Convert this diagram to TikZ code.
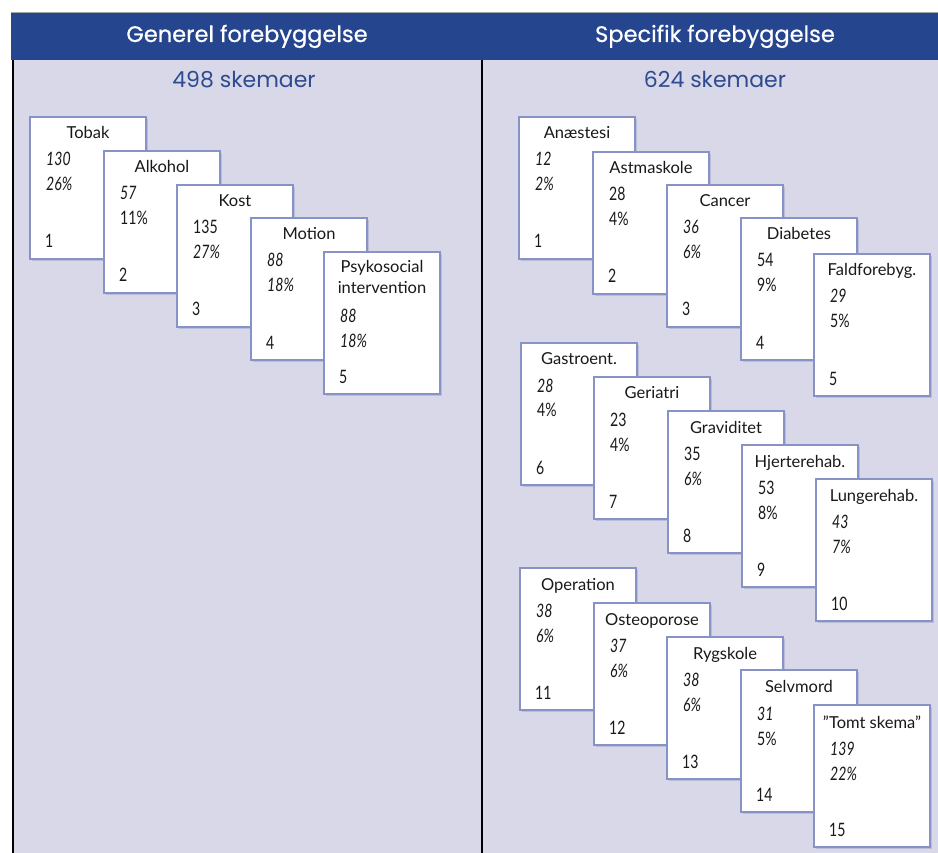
\documentclass[tikz,border=0pt]{standalone}
\usepackage{fontspec}
\setmainfont{Lato}
\newfontfamily\headfont[FakeBold=0.7]{Poppins}
\newfontfamily\subfont{Poppins}
\newfontfamily\numfont[FakeStretch=0.76]{Lato}
\usetikzlibrary{calc,shadows}
\definecolor{hdrblue}{HTML}{25458E}
\definecolor{panelc}{HTML}{D9D8E9}
\definecolor{cardline}{HTML}{8792C6}
\definecolor{shadowc}{HTML}{B9BDDA}
\definecolor{subblue}{HTML}{2D4B90}
\newcommand\card[9]{%
  \node[cardbox] (#1) at (#2,#3) {};
  \node[ctitle] (#1t) at ($(#1.north west)+(58,#8)$) {#4};
  \node[cnum] (#1n) at ($(#1.north west)+(16,#9)$) {#5};
  \node[cnum] (#1p) at ($(#1.north west)+(16,#9+25)$) {#6};
  \node[cnum] (#1i) at ($(#1.north west)+(15,131)$) {#7};
}
\begin{document}
\begin{tikzpicture}[x=1pt,y=-1pt,
  cardbox/.style={draw=cardline, line width=1.4pt, fill=white, anchor=north west,
    minimum width=116pt, minimum height=142pt, inner sep=0pt, outer sep=0pt,
    drop shadow={shadow xshift=1.6pt, shadow yshift=-1.6pt, fill=shadowc, opacity=1}},
  ctitle/.style={font=\fontsize{16.5}{21}\selectfont, inner sep=0pt, anchor=base, text=black!90},
  cnum/.style={font=\numfont\fontsize{18.5}{20}\selectfont, inner sep=0pt, anchor=base west, text=black!90},
  hdr/.style={font=\headfont\fontsize{22.5}{24}\selectfont, text=white, inner sep=0pt, anchor=base},
  sub/.style={font=\subfont\fontsize{22}{24}\selectfont, text=subblue, inner sep=0pt, anchor=base},
  rule/.style={line width=2pt, black}
]
\useasboundingbox (0,0) rectangle (938,853);
% panels
\fill[panelc] (12,60) rectangle (938,853);
\fill[hdrblue] (11,13) rectangle (938,60);
\draw[line width=0.8pt, black!35] (11,12.6) -- (938,12.6);
\draw[rule] (12.5,60) -- (12.5,853);
\draw[rule] (481.5,60) -- (481.5,853);
% headings
\node[hdr] (h1) at (247,42) {Generel forebyggelse};
\node[hdr] (h2) at (715,42) {Specifik forebyggelse};
\node[sub] (s1) at (244,88) {498 skemaer};
\node[sub] (s2) at (715,88) {624 skemaer};
% left cards
\card{c1}{30}{117}{Tobak}{\textit{130}}{\textit{26\%}}{1}{22}{49}
\card{c2}{104}{151}{Alkohol}{\textit{57}}{11\%}{2}{22}{49}
\card{c3}{177}{185}{Kost}{135}{\textit{27\%}}{3}{22}{49}
\card{c4}{251}{218}{Motion}{\textit{88}}{\textit{18\%}}{4}{22}{49}
\card{c5}{324}{252}{Psykosocial}{\textit{88}}{\textit{18\%}}{5}{21}{71}
\node[ctitle] (c5t2) at ($(c5.north west)+(58,42)$) {intervention};
% right cards, row 1
\card{r1}{519}{117}{Anæstesi}{\textit{12}}{\textit{2\%}}{1}{22}{49}
\card{r2}{593}{152}{Astmaskole}{28}{4\%}{2}{22}{49}
\card{r3}{667}{185}{Cancer}{\textit{36}}{\textit{6\%}}{3}{22}{49}
\card{r4}{741}{218}{Diabetes}{54}{9\%}{4}{22}{49}
\card{r5}{814}{254}{Faldforebyg.}{\textit{29}}{5\%}{5}{22}{49}
% row 2
\card{r6}{521}{343}{Gastroent.}{\textit{28}}{4\%}{6}{22}{49}
\card{r7}{594}{377}{Geriatri}{23}{4\%}{7}{22}{49}
\card{r8}{668}{411}{Graviditet}{35}{\textit{6\%}}{8}{22}{49}
\card{r9}{742}{445}{Hjerterehab.}{53}{8\%}{9}{22}{49}
\card{r10}{816}{479}{Lungerehab.}{\textit{43}}{\textit{7\%}}{10}{22}{49}
% row 3
\card{r11}{520}{568}{Operation}{\textit{38}}{\textit{6\%}}{11}{22}{49}
\card{r12}{594}{603}{Osteoporose}{\textit{37}}{\textit{6\%}}{12}{22}{49}
\card{r13}{667}{637}{Rygskole}{\textit{38}}{\textit{6\%}}{13}{22}{49}
\card{r14}{741}{670}{Selvmord}{\textit{31}}{5\%}{14}{22}{50}
\card{r15}{814}{705}{"Tomt skema"}{\textit{139}}{\textit{22\%}}{15}{23}{50}
\end{tikzpicture}
\end{document}
